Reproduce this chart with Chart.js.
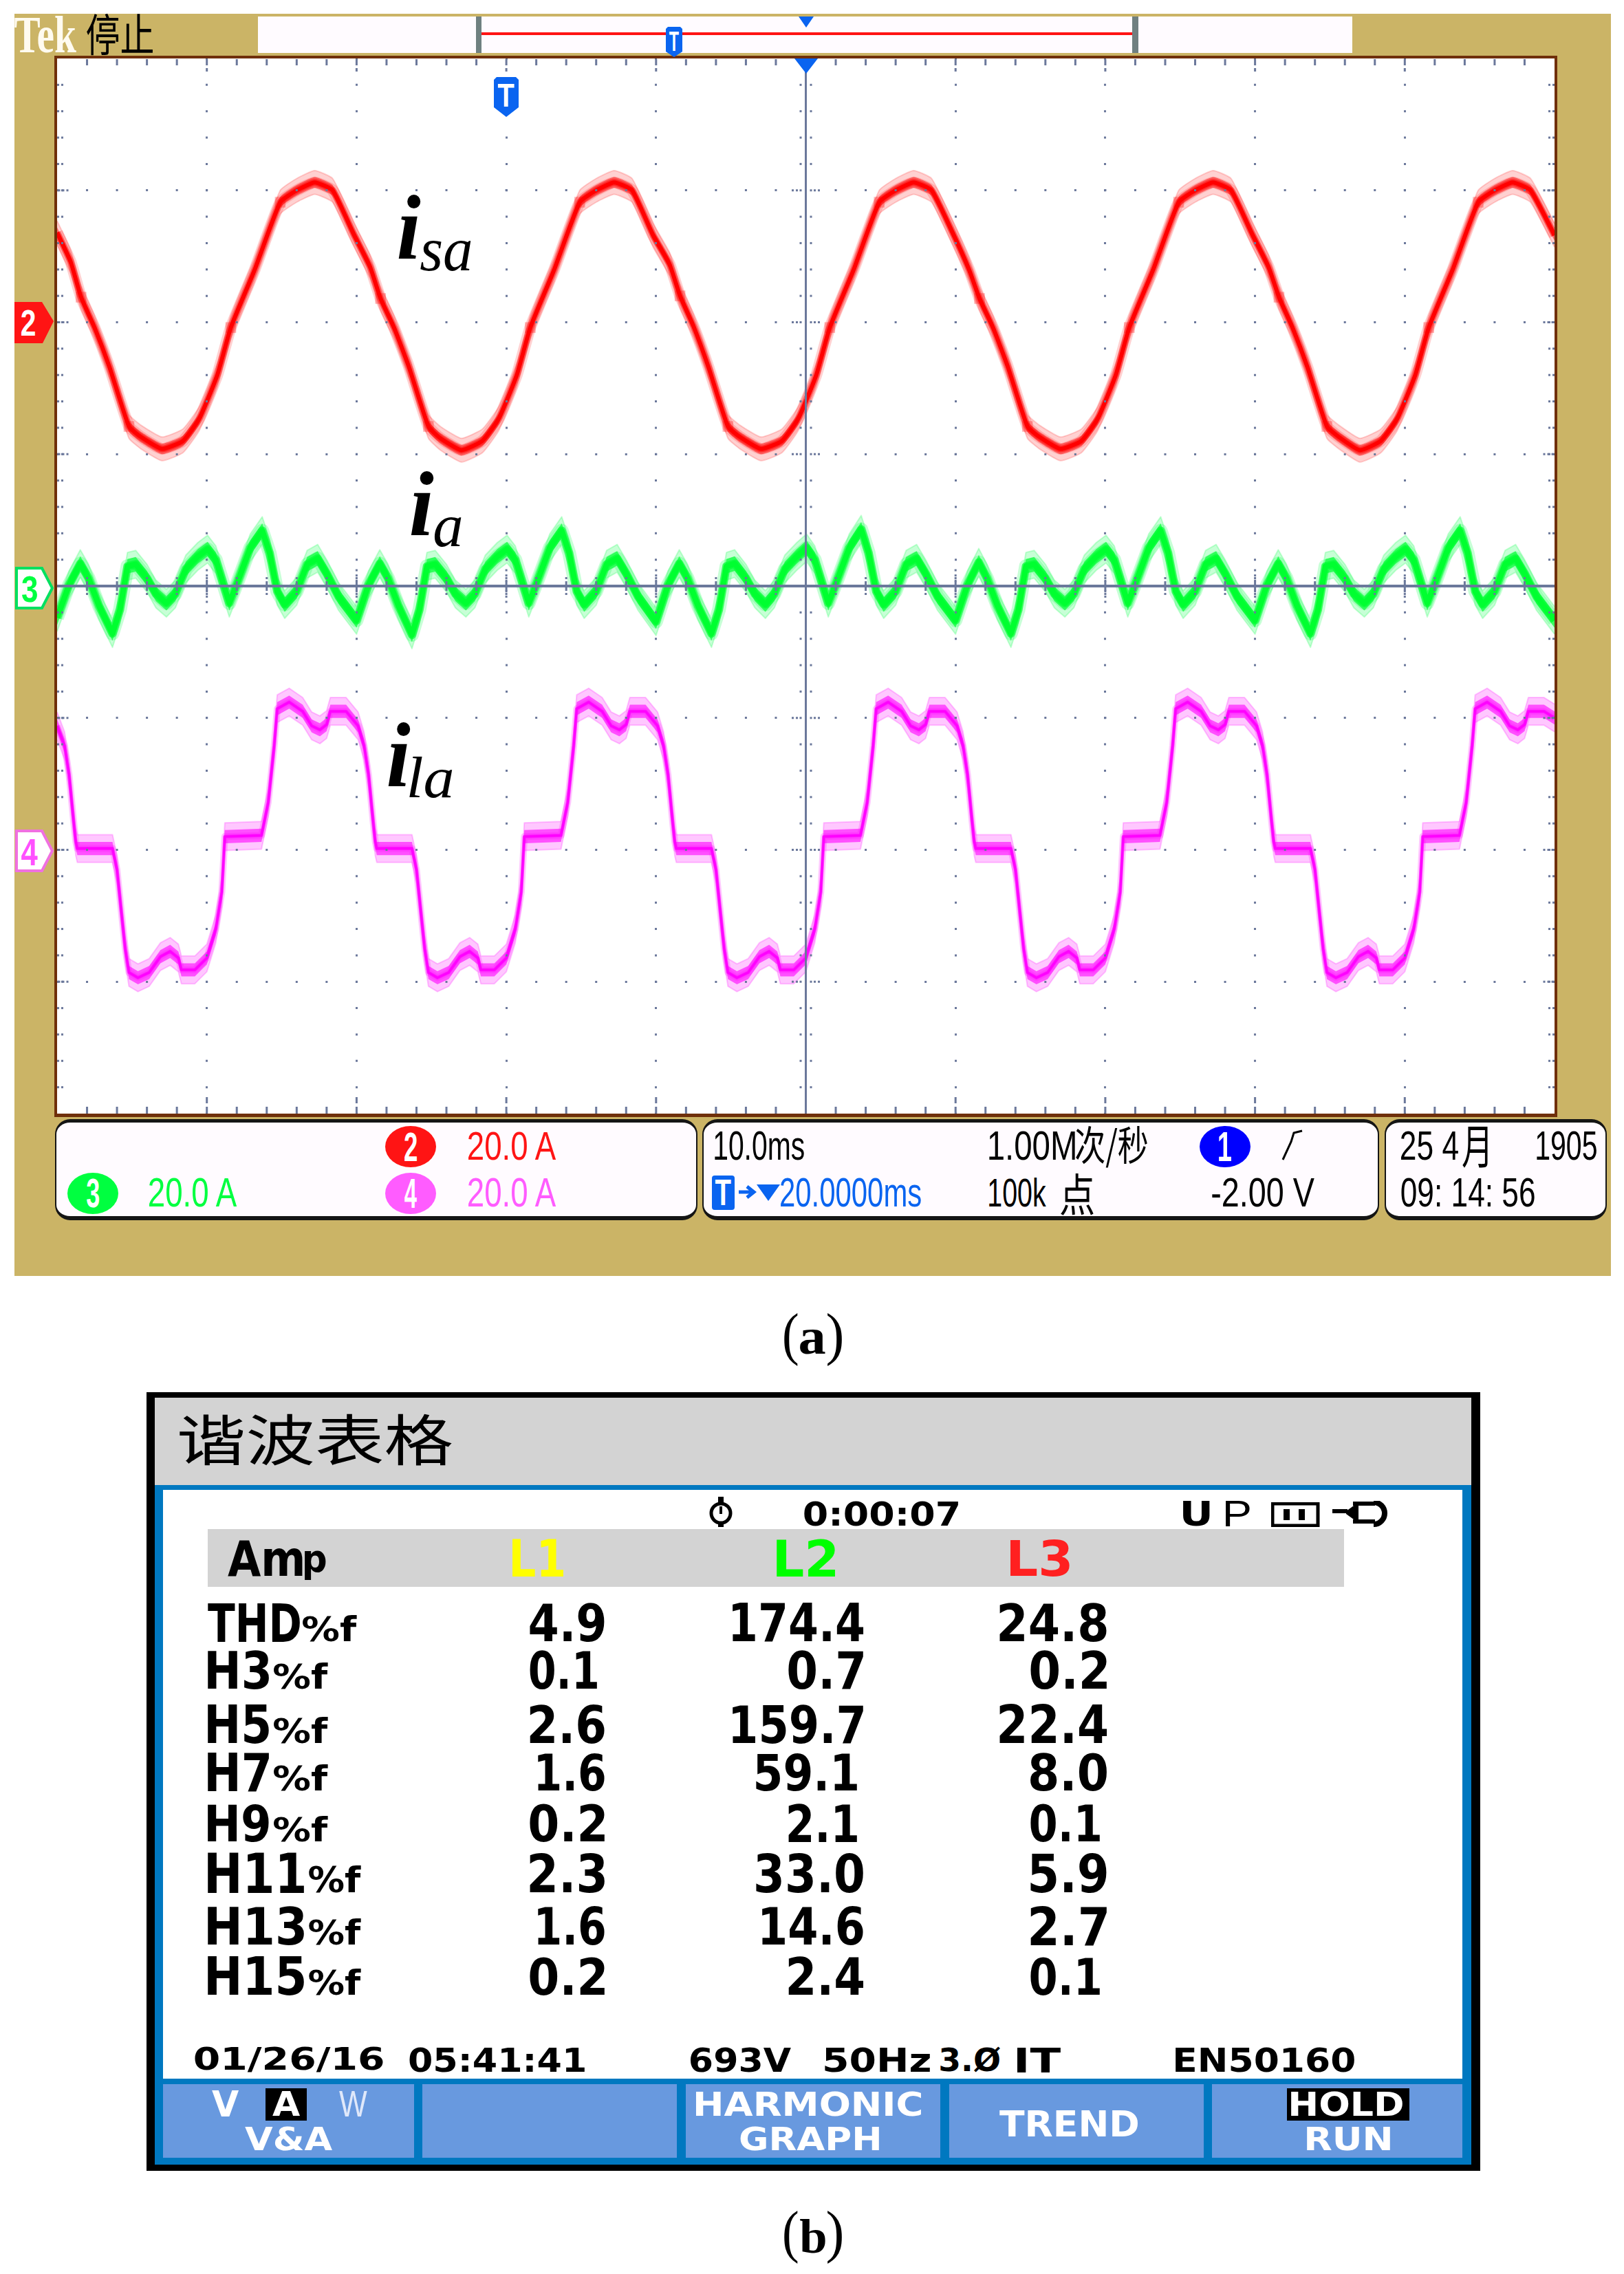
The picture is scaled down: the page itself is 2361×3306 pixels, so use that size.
<!DOCTYPE html>
<html><head><meta charset="utf-8">
<script src="https://cdn.jsdelivr.net/npm/chart.js@4"></script>
<style>
html,body{margin:0;padding:0;background:#fff}
#page{position:relative;width:2361px;height:3306px;overflow:hidden;background:#fff}
.box{position:absolute}
.t{position:absolute;left:0;top:0;white-space:pre;transform-origin:0 0;line-height:100px}
canvas{position:absolute}
</style></head><body><div id="page"></div>
<script>
// ---------- scope data (time in ms, value in divisions from screen centre) ----------
const timeDivisions=[0,10,20,30,40,50,60,70,80,90,100];
const voltDivisions=[-4,-3,-2,-1,0,1,2,3,4];
const isaTime=[0,0.9,1.6,2.5,3.5,4.8,5.6,7.0,8.4,9.5,10.7,11.6,13.2,14.9,16.0,17.2,18.4,19.8,
20.9,21.6,22.5,23.5,24.8,25.6,27.0,28.4,29.5,30.7,31.6,33.2,34.9,36.0,37.2,38.4,39.8,
40.9,41.6,42.5,43.5,44.8,45.6,47.0,48.4,49.5,50.7,51.6,53.2,54.9,56.0,57.2,58.4,59.8,
60.9,61.6,62.5,63.5,64.8,65.6,67.0,68.4,69.5,70.7,71.6,73.2,74.9,76.0,77.2,78.4,79.8,
80.9,81.6,82.5,83.5,84.8,85.6,87.0,88.4,89.5,90.7,91.6,93.2,94.9,96.0,97.2,98.4,100];
const isaValue=[2.68,2.46,2.19,1.96,1.66,1.21,1.13,1.04,1.10,1.27,1.60,1.96,2.40,2.91,3.00,3.06,3.00,2.67,
2.42,2.18,1.96,1.66,1.21,1.12,1.03,1.10,1.27,1.60,1.96,2.40,2.91,3.00,3.06,3.00,2.66,
2.44,2.20,1.97,1.66,1.21,1.13,1.04,1.10,1.27,1.60,1.96,2.40,2.91,3.00,3.06,3.00,2.68,
2.40,2.18,1.96,1.66,1.21,1.13,1.04,1.10,1.27,1.60,1.96,2.40,2.91,3.00,3.06,3.00,2.67,
2.42,2.19,1.96,1.66,1.21,1.13,1.03,1.10,1.27,1.60,1.96,2.40,2.91,3.00,3.06,3.00,2.66];
const isaBlobTime=[1.6,4.8,11.6,14.9,21.6,24.8,31.6,34.9,41.6,44.8,51.6,54.9,61.6,64.8,71.6,74.9,81.6,84.8,91.6,94.9];
const isaBlobValue=[2.19,1.21,1.96,2.91,2.18,1.21,1.96,2.91,2.20,1.21,1.96,2.91,2.18,1.21,1.96,2.91,2.19,1.21,1.96,2.91];
const iaTime=[0,0.8,1.55,2.1,2.8,3.7,4.2,4.7,5.25,6.0,6.6,7.3,7.9,8.6,9.4,10.05,10.6,11.5,12.05,12.9,13.7,14.2,14.7,15.2,16.0,16.7,17.4,18.0,18.8,
20,20.8,21.55,22.1,22.8,23.7,24.2,24.7,25.25,26.0,26.6,27.3,27.9,28.6,29.4,30.05,30.6,31.5,32.05,32.9,33.7,34.2,34.7,35.2,36.0,36.7,37.4,38.0,38.8,
40,40.8,41.55,42.1,42.8,43.7,44.2,44.7,45.25,46.0,46.6,47.3,47.9,48.6,49.4,50.05,50.6,51.5,52.05,52.9,53.7,54.2,54.7,55.2,56.0,56.7,57.4,58.0,58.8,
60,60.8,61.55,62.1,62.8,63.7,64.2,64.7,65.25,66.0,66.6,67.3,67.9,68.6,69.4,70.05,70.6,71.5,72.05,72.9,73.7,74.2,74.7,75.2,76.0,76.7,77.4,78.0,78.8,
80,80.8,81.55,82.1,82.8,83.7,84.2,84.7,85.25,86.0,86.6,87.3,87.9,88.6,89.4,90.05,90.6,91.5,92.05,92.9,93.7,94.2,94.7,95.2,96.0,96.7,97.4,98.0,98.8,100];
const iaValue=[-.24,.01,.17,.06,-.15,-.36,-.18,.15,.165,.06,-.06,-.13,-.06,.13,.225,.28,.20,-.13,.03,.29,.42,.25,-.04,-.14,-.04,.165,.21,.096,-.08,
-.26,.01,.17,.06,-.15,-.37,-.18,.15,.165,.06,-.06,-.13,-.06,.13,.225,.28,.20,-.13,.03,.29,.42,.25,-.04,-.14,-.04,.165,.21,.096,-.08,
-.27,.01,.17,.06,-.15,-.36,-.18,.15,.17,.06,-.06,-.14,-.06,.13,.225,.29,.20,-.13,.03,.29,.43,.25,-.04,-.14,-.04,.165,.21,.096,-.08,
-.26,.01,.18,.06,-.15,-.36,-.18,.15,.165,.06,-.06,-.13,-.06,.13,.225,.28,.20,-.13,.03,.29,.42,.25,-.04,-.14,-.04,.165,.21,.096,-.08,
-.26,.01,.17,.06,-.15,-.36,-.18,.15,.165,.06,-.06,-.13,-.06,.13,.225,.28,.20,-.13,.03,.29,.42,.25,-.04,-.14,-.04,.165,.21,.096,-.08,-.26];
const ilaTime=[0,.5,.8,1.1,1.25,1.35,3.7,4.0,4.3,4.55,4.8,5.4,6.15,6.9,7.55,8.1,8.3,9.2,10.0,10.6,11.0,11.2,13.65,14.1,14.5,14.7,15.5,16.4,17.0,17.55,18.0,18.25,19.3,
20.1,20.5,20.8,21.1,21.25,21.35,23.7,24.0,24.3,24.55,24.8,25.4,26.15,26.9,27.55,28.1,28.3,29.2,30.0,30.6,31.0,31.2,33.65,34.1,34.5,34.7,35.5,36.4,37.0,37.55,38.0,38.25,39.3,
40.1,40.5,40.8,41.1,41.25,41.35,43.7,44.0,44.3,44.55,44.8,45.4,46.15,46.9,47.55,48.1,48.3,49.2,50.0,50.6,51.0,51.2,53.65,54.1,54.5,54.7,55.5,56.4,57.0,57.55,58.0,58.25,59.3,
60.1,60.5,60.8,61.1,61.25,61.35,63.7,64.0,64.3,64.55,64.8,65.4,66.15,66.9,67.55,68.1,68.3,69.2,70.0,70.6,71.0,71.2,73.65,74.1,74.5,74.7,75.5,76.4,77.0,77.55,78.0,78.25,79.3,
80.1,80.5,80.8,81.1,81.25,81.35,83.7,84.0,84.3,84.55,84.8,85.4,86.15,86.9,87.55,88.1,88.3,89.2,90.0,90.6,91.0,91.2,93.65,94.1,94.5,94.7,95.5,96.4,97.0,97.55,98.0,98.25,99.3,100];
const ilaValue=[-1.06,-1.21,-1.43,-1.78,-1.94,-1.99,-1.99,-2.15,-2.48,-2.75,-2.93,-2.97,-2.93,-2.81,-2.77,-2.82,-2.91,-2.91,-2.82,-2.60,-2.32,-1.90,-1.89,-1.64,-1.21,-.93,-.88,-.95,-1.06,-1.09,-1.05,-.95,-.95,
-1.06,-1.21,-1.43,-1.78,-1.94,-1.99,-1.99,-2.15,-2.48,-2.75,-2.93,-2.97,-2.93,-2.81,-2.77,-2.82,-2.91,-2.91,-2.82,-2.60,-2.32,-1.90,-1.89,-1.64,-1.21,-.93,-.88,-.95,-1.06,-1.09,-1.05,-.95,-.95,
-1.06,-1.21,-1.43,-1.78,-1.94,-1.99,-1.99,-2.15,-2.48,-2.75,-2.93,-2.97,-2.93,-2.81,-2.77,-2.82,-2.91,-2.91,-2.82,-2.60,-2.32,-1.90,-1.89,-1.64,-1.21,-.93,-.88,-.95,-1.06,-1.09,-1.05,-.95,-.95,
-1.06,-1.21,-1.43,-1.78,-1.94,-1.99,-1.99,-2.15,-2.48,-2.75,-2.93,-2.97,-2.93,-2.81,-2.77,-2.82,-2.91,-2.91,-2.82,-2.60,-2.32,-1.90,-1.89,-1.64,-1.21,-.93,-.88,-.95,-1.06,-1.09,-1.05,-.95,-.95,
-1.06,-1.21,-1.43,-1.78,-1.94,-1.99,-1.99,-2.15,-2.48,-2.75,-2.93,-2.97,-2.93,-2.81,-2.77,-2.82,-2.91,-2.91,-2.82,-2.60,-2.32,-1.90,-1.89,-1.64,-1.21,-.93,-.88,-.95,-1.06,-1.09,-1.05,-.95,-.95,-1.0];
// ---------- harmonic table ----------
const harmonicNames=["THD","H3","H5","H7","H9","H11","H13","H15"];
const ampL1=["4.9","0.1","2.6","1.6","0.2","2.3","1.6","0.2"];
const ampL2=["174.4","0.7","159.7","59.1","2.1","33.0","14.6","2.4"];
const ampL3=["24.8","0.2","22.4","8.0","0.1","5.9","2.7","0.1"];

const page=document.getElementById('page');
const mc=document.createElement('canvas').getContext('2d');
const SANS='"Liberation Sans"',CJK='"Noto Sans CJK SC"',BOLD='bold 100px "DejaVu Sans"',THIN='100px "Liberation Sans"';
function box(x0,y0,x1,y1,bg,extra){const d=document.createElement('div');d.className='box';
 d.style.cssText+=`left:${x0}px;top:${y0}px;width:${x1-x0}px;height:${y1-y0}px;background:${bg};`+(extra||'');page.appendChild(d);return d;}
function T(str,x0,x1,y0,y1,font,color){
 mc.font=font;const m=mc.measureText(str);
 const l=-m.actualBoundingBoxLeft,r=m.actualBoundingBoxRight,a=m.actualBoundingBoxAscent,de=m.actualBoundingBoxDescent;
 const A=m.fontBoundingBoxAscent,D=m.fontBoundingBoxDescent,b=(100-(A+D))/2+A;
 const sx=(x1-x0)/(r-l),sy=(y1-y0)/(a+de);
 const s=document.createElement('span');s.className='t';s.textContent=str;s.style.font=font;s.style.lineHeight='100px';s.style.color=color;
 s.style.transform=`translate(${x0-l*sx}px,${y0+a*sy-b*sy}px) scale(${sx},${sy})`;page.appendChild(s);}
function svg(x0,y0,x1,y1,inner){const d=document.createElement('div');d.className='box';
 d.style.cssText+=`left:${x0}px;top:${y0}px;width:${x1-x0}px;height:${y1-y0}px;`;
 d.innerHTML=`<svg width="${x1-x0}" height="${y1-y0}" viewBox="0 0 ${x1-x0} ${y1-y0}" style="display:block">${inner}</svg>`;page.appendChild(d);}

// ---------- scope chrome ----------
const TAN='#cbb466',PANEL='#fffbff',BLUE='#0a64f0';
box(21,20,2342,1855,TAN);
box(375,24,1966,77,PANEL);
box(700,47,1647,51,'#ff1414');
box(692,24,700,77,'#6f8080');box(1646,24,1655,77,'#6f8080');
T('Tek',21,111,24,77,'bold 100px "Liberation Serif"','#fffbf0');
T('停止',126,222,20,80,'100px '+CJK,'#000');

const cv=document.createElement('canvas');cv.width=2177;cv.height=1534;cv.style.cssText='left:83px;top:85px;width:2177px;height:1534px;background:#fff';page.appendChild(cv);
const GRAT='#6b789b';
function xy(t,v,d){return t.map((x,i)=>({x:x,y:v[i]+d}));}
function trace(t,v,core,mid,pale,hp,hm,wCore,wMid,wPale,tension){
 const base={pointRadius:0,tension:tension,borderJoinStyle:'round'};
 return [
  {...base,data:xy(t,v,hp),borderColor:pale,borderWidth:2,fill:'+1',backgroundColor:pale},
  {...base,data:xy(t,v,-hp),borderColor:pale,borderWidth:2,fill:false},
  {...base,data:xy(t,v,0),borderColor:pale,borderWidth:wPale,fill:false},
  {...base,data:xy(t,v,hm),borderColor:'rgba(0,0,0,0)',borderWidth:0,fill:'+1',backgroundColor:mid},
  {...base,data:xy(t,v,-hm),borderColor:'rgba(0,0,0,0)',borderWidth:0,fill:false},
  {...base,data:xy(t,v,0),borderColor:mid,borderWidth:wMid,fill:false},
  {...base,data:xy(t,v,0),borderColor:core,borderWidth:wCore,fill:false}
 ];
}
const graticule={id:'graticule',afterDatasetsDraw(c){
 const g=c.ctx,X=c.scales.x,Y=c.scales.y,A=c.chartArea;
 const cx=X.getPixelForValue(50),cy=Y.getPixelForValue(0);
 const dot=(x,y,w,h)=>g.fillRect(x-w/2,y-h/2,w,h);
 g.save();g.fillStyle=GRAT;
 for(let t=0;t<=100;t+=2){
  const x=X.getPixelForValue(t),major=t%10===0;
  if(t>0&&t<100){
   g.fillRect(x-1.5,A.top+1,3,9);
   g.fillRect(x-1.5,A.bottom-10,3,10);
   if(major){g.fillRect(x-1.5,A.bottom-24,3,9);g.fillRect(x-1.5,A.top+14,3,5);}
   dot(x,cy,3,14);dot(x,cy-11.5,3,3);dot(x,cy+11.5,3,3);
   if(major)for(const o of [7.7,15.4,23]){dot(x,cy-o,3,3);dot(x,cy+o,3,3);}
  }
 }
 for(let i=-20;i<=20;i++){
  const v=i/5,y=Y.getPixelForValue(v);
  if(i===-20||i===20)continue;
  dot(A.left+1.5,y,3,3);dot(A.left+7.5,y,3,3);
  dot(A.right-1.5,y,3,3);dot(A.right-7.5,y,3,3);
  dot(cx-7.5,y,3,3);dot(cx+7.5,y,3,3);
  if(i%5===0)for(const o of [3,9,15]){dot(A.left+o,y,3,3);dot(A.right-o,y,3,3);}
  if(i%5===0)for(const o of [13,19]){dot(cx-o,y,3,3);dot(cx+o,y,3,3);}
 }
 g.restore();
}};
new Chart(cv,{type:'line',plugins:[graticule],data:{datasets:[
 {data:xy(isaBlobTime,isaBlobValue,0),showLine:false,pointStyle:'rect',pointRadius:11,pointBackgroundColor:'rgba(255,0,0,.28)',pointBorderWidth:0},
 ...trace(isaTime,isaValue,'#ff0000','rgba(255,0,0,.5)','rgba(255,0,0,.18)',.09,.04,6,10,17,.15),
 ...trace(iaTime,iaValue,'#00ff00','rgba(0,255,40,.7)','rgba(0,255,70,.22)',.105,.055,8,12,20,0),
 ...trace(ilaTime,ilaValue,'#ff00ff','rgba(255,0,255,.6)','rgba(255,0,255,.22)',.105,.05,3,5,10,0)
]},options:{responsive:false,animation:false,devicePixelRatio:1,events:[],layout:{padding:0,autoPadding:false},
 plugins:{legend:{display:false},tooltip:{enabled:false},title:{display:false}},
 scales:{
  x:{type:'linear',min:0,max:100,afterBuildTicks:s=>{s.ticks=timeDivisions.map(v=>({value:v}));},
   ticks:{display:false,autoSkip:false},
   grid:{z:1,drawTicks:false,lineWidth:3,color:c=>(c.tick.value===0||c.tick.value===100)?'rgba(0,0,0,0)':GRAT},
   border:{display:false,dash:c=>c.tick.value===50?[]:[3,35.35],dashOffset:1.5}},
  y:{type:'linear',min:-4,max:4,afterBuildTicks:s=>{s.ticks=voltDivisions.map(v=>({value:v}));},
   ticks:{display:false,autoSkip:false},
   grid:{z:1,drawTicks:false,lineWidth:c=>c.tick.value===0?4:3,color:c=>(Math.abs(c.tick.value)===4)?'rgba(0,0,0,0)':GRAT},
   border:{display:false,dash:c=>c.tick.value===0?[]:[3,40.54],dashOffset:1.5}}
 }}});

const BROWN='#6f2f0a';
box(79,81,2264,85,BROWN);box(79,1619,2264,1624,BROWN);box(79,81,83,1624,BROWN);box(2260,81,2264,1624,BROWN);

// blue markers
svg(1161,24,1183,40,`<polygon points="0,0 22,0 11,16" fill="${BLUE}"/>`);
svg(1155,85,1189,107,`<polygon points="0,0 34,0 17,22" fill="${BLUE}"/>`);
svg(718,112,754,170,`<path d="M4 0H32L36 4V44L18 58L0 44V4Z" fill="${BLUE}"/>`);
T('T',724,748,121,155,'bold 100px '+SANS,'#fff');
svg(968,39,992,83,`<path d="M3 0H21L24 3V36L12 44L0 36V3Z" fill="${BLUE}"/>`);
T('T',973,987,46,74,'bold 100px '+SANS,'#fff');
// channel flags
svg(21,437,78,502,`<polygon points="0,2 40,2 57,30 41,62 0,62" fill="#ff1414"/>`);
T('2',31,51,450,488,'bold 100px '+SANS,'#fff');
svg(21,823,78,888,`<polygon points="3,3 40,3 55,32 40,61 3,61" fill="#fff" stroke="#00e060" stroke-width="4"/>`);
T('3',32,54,838,876,'bold 100px '+SANS,'#00ff40');
svg(21,1205,78,1270,`<polygon points="3,3 40,3 55,32 40,61 3,61" fill="#fff" stroke="#f070e0" stroke-width="4"/>`);
T('4',31,55,1220,1258,'bold 100px '+SANS,'#ff50ff');

// annotations
const TI='italic 100px "Liberation Serif"',TBI='italic bold 100px "Liberation Serif"';
T('i',579,612,285,377,TBI,'#000');T('sa',611,685,350,394,TI,'#000');
T('i',597,631,687,779,TBI,'#000');T('a',631,671,752,795,TI,'#000');
T('i',564,597,1052,1144,TBI,'#000');T('la',595,658,1101,1160,TI,'#000');

// status panels
for(const [a,b] of [[80,1014],[1021,2005],[2013,2336]])
 box(a,1627,b,1774,PANEL,'box-sizing:border-box;border:2px solid #151515;border-top-width:5px;border-bottom-width:6px;border-radius:22px;');
function chip(cx,cy,col,n){box(cx-37,cy-30,cx+37,cy+30,col,'border-radius:50%;');T(n,cx-9,cx+9,cy-21,cy+21,'bold 100px '+SANS,'#fff');}
chip(597,1667,'#ff1414','2');chip(135,1735,'#00ff40','3');chip(597,1735,'#ff5cff','4');chip(1781,1667,'#0000ff','1');
T('20.0 A',681,811,1646,1687,THIN,'#ff1414');
T('20.0 A',217,347,1713,1755,THIN,'#00ff40');
T('20.0 A',681,811,1713,1755,THIN,'#ff5cff');
T('10.0ms',1039,1169,1645,1687,THIN,'#000');
T('1.00M',1438,1563,1645,1687,THIN,'#000');
T('次/秒',1564,1668,1637,1698,'100px '+CJK,'#000');
svg(1859,1642,1895,1688,`<path d="M6 44L18 18L22 5L34 2" stroke="#000" stroke-width="3" fill="none"/>`);
T('25 4',2037,2120,1645,1687,THIN,'#000');T('月',2126,2163,1638,1698,'100px '+CJK,'#000');
T('1905',2234,2321,1645,1687,THIN,'#000');
T('09: 14: 56',2037,2231,1713,1755,THIN,'#000');
box(1035,1709,1068,1759,BLUE,'border-radius:4px;');T('T',1040,1063,1714,1752,'bold 100px '+SANS,'#fff');
svg(1072,1720,1136,1750,`<path d="M2 13H20M14 5L24 13L14 21" stroke="${BLUE}" stroke-width="5" fill="none"/><polygon points="28,2 62,2 45,26" fill="${BLUE}"/>`);
T('20.0000ms',1135,1339,1713,1755,THIN,BLUE);
T('100k',1438,1521,1713,1755,THIN,'#000');T('点',1542,1590,1706,1767,'100px '+CJK,'#000');
T('-2.00 V',1762,1911,1713,1755,THIN,'#000');

T('(',1140,1160,1910,1987,'100px "Liberation Serif"','#000');
T('a',1163,1200,1933,1969,'bold 100px "Liberation Serif"','#000');
T(')',1203,1224,1910,1987,'100px "Liberation Serif"','#000');

// ---------- analyser ----------
box(213,2024,2152,3156,'#000');
box(225,2032,2139,2159,'#d3d3d3');
box(225,2159,2139,3147,'#0078c0');
box(237,2166,2126,3022,'#fff');
for(const [a,b] of [[237,602],[614,984],[997,1367],[1380,1750],[1762,2126]])box(a,3030,b,3137,'#6899df');
T('谐波表格',261,657,2056,2131,'100px '+CJK,'#000');
T('0:00:07',1169,1393,2182,2219,BOLD,'#000');
svg(1026,2176,1071,2220,`<circle cx="22" cy="24" r="14" fill="#fff" stroke="#000" stroke-width="5"/><rect x="18" y="0" width="8" height="10"/><rect x="18" y="36" width="8" height="8"/><rect x="20" y="14" width="4" height="11"/>`);
T('U',1720,1759,2182,2219,BOLD,'#000');T('P',1782,1817,2182,2219,THIN,'#000');
svg(1848,2184,1920,2220,`<rect x="2" y="2" width="66" height="32" fill="#fff" stroke="#000" stroke-width="5"/><rect x="18" y="10" width="9" height="16"/><rect x="40" y="10" width="9" height="16"/>`);
svg(1937,2182,2022,2220,`<path d="M0 15H22M30 4H62M30 30H62" stroke="#000" stroke-width="6"/><path d="M20 15L38 2V32L20 19Z"/><path d="M60 2A16 16 0 0 1 60 34" fill="none" stroke="#000" stroke-width="8"/>`);
box(302,2223,1954,2307,'#d3d3d3');
T('Am',331,440,2239,2292,BOLD,'#000');T('p',443,474,2255,2297,BOLD,'#000');
T('L1',745,819,2238,2292,BOLD,'#ffff00');
T('L2',1129,1214,2238,2292,BOLD,'#00ff00');
T('L3',1469,1555,2238,2292,BOLD,'#ff2020');

const rowTop=[2330,2399,2478,2548,2623,2694,2771,2845];
const rowBot=[2387,2456,2535,2604,2678,2752,2828,2901];
const nameRight=[436,391,391,391,391,442,442,442];
const pctLeft=[440,398,398,398,398,449,449,449];
const pctRight=[519,477,477,477,477,525,525,525];
const l1Span=[[770,879],[770,868],[770,879],[782,879],[770,879],[770,879],[782,879],[770,879]];
const l2Span=[[1065,1255],[1146,1255],[1065,1255],[1099,1246],[1146,1246],[1099,1255],[1108,1255],[1146,1255]];
const l3Span=[[1453,1609],[1498,1609],[1453,1609],[1498,1609],[1498,1599],[1498,1609],[1498,1609],[1498,1599]];
harmonicNames.forEach((n,i)=>{
 const a=rowTop[i],b=rowBot[i];
 T(n,302,nameRight[i],a,b,BOLD,'#000');
 T('%f',pctLeft[i],pctRight[i],a+(b-a)*.32,b,BOLD,'#000');
 T(ampL1[i],l1Span[i][0],l1Span[i][1],a,b,BOLD,'#000');
 T(ampL2[i],l2Span[i][0],l2Span[i][1],a,b,BOLD,'#000');
 T(ampL3[i],l3Span[i][0],l3Span[i][1],a,b,BOLD,'#000');
});
T('01/26/16',283,557,2976,3013,BOLD,'#000');
T('05:41:41',595,850,2976,3013,BOLD,'#000');
T('693V',1004,1150,2976,3013,BOLD,'#000');
T('50Hz',1199,1352,2976,3013,BOLD,'#000');
T('3.Ø',1367,1454,2976,3013,BOLD,'#000');
T('IT',1479,1542,2976,3013,BOLD,'#000');
T('EN50160',1709,1969,2976,3013,BOLD,'#000');
T('V',308,347,3040,3077,BOLD,'#fff');
box(386,3036,446,3083,'#000');T('A',396,436,3040,3077,BOLD,'#fff');
T('W',493,534,3040,3077,THIN,'#dfe8fa');
T('V&A',356,483,3092,3127,BOLD,'#fff');
T('HARMONIC',1012,1339,3040,3077,BOLD,'#fff');
T('GRAPH',1076,1278,3092,3127,BOLD,'#fff');
T('TREND',1453,1654,3068,3106,BOLD,'#fff');
box(1871,3036,2049,3083,'#000');T('HOLD',1877,2039,3040,3077,BOLD,'#fff');
T('RUN',1900,2021,3092,3127,BOLD,'#fff');

T('(',1140,1160,3215,3292,'100px "Liberation Serif"','#000');
T('b',1163,1200,3227,3277,'bold 100px "Liberation Serif"','#000');
T(')',1203,1224,3215,3292,'100px "Liberation Serif"','#000');
</script></body></html>
